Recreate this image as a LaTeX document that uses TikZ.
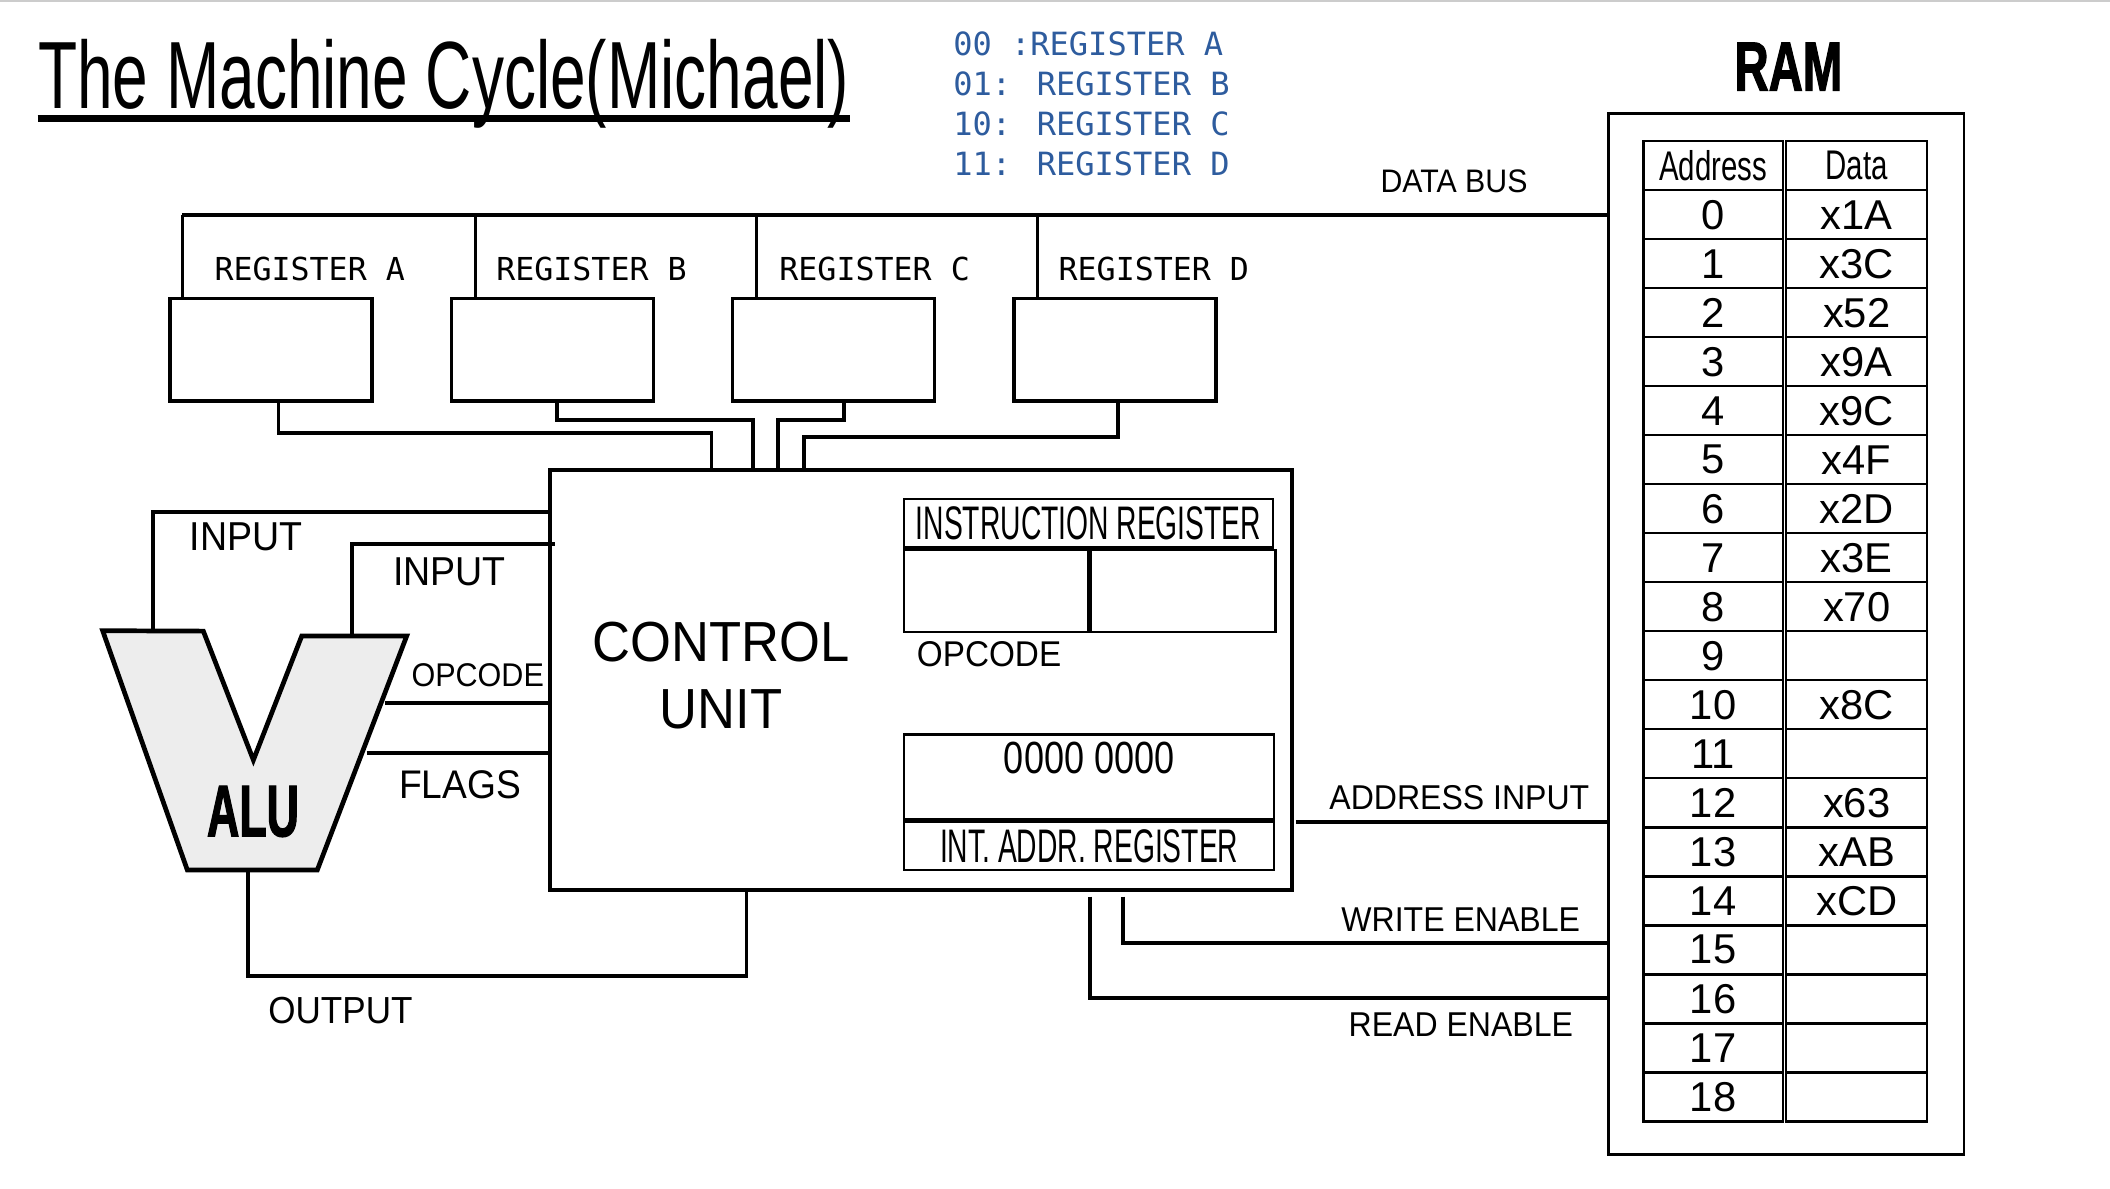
\documentclass[tikz,border=0pt]{standalone}
\usepackage{fontspec}
\setmainfont{Liberation Sans}
\newfontfamily\robotofont{Liberation Sans}[FakeStretch=0.93]
\newfontfamily\slimfont{Liberation Sans}[FakeStretch=0.67]
\newfontfamily\condfont{Liberation Sans}[FakeStretch=0.6]
\newfontfamily\condlowfont{Liberation Sans}[FakeStretch=0.71]
\newfontfamily\digitfont{Liberation Sans}[FakeStretch=0.8]
\newfontfamily\heavyfont{Liberation Sans Bold}[FakeStretch=0.68,FakeBold=1.5]
\newfontfamily\aluheavy{Liberation Sans Bold}[FakeStretch=0.61,FakeBold=1.5]
\newfontfamily\regfont{DejaVu Sans Mono}
\usetikzlibrary{positioning}
\definecolor{codeblue}{HTML}{2E5C9E}
\definecolor{alugray}{HTML}{EDEDED}

\begin{document}
\begin{tikzpicture} [
        x=0.5pt, y=-0.5pt,
        regbox/.style={draw, rectangle, line width=1.3pt, minimum width=75pt, minimum height=38pt},
        cubox/.style={draw, rectangle, line width=1.4pt, minimum width=275.75pt, minimum height=156pt},
        ramframe/.style={draw, rectangle, line width=0.9pt, minimum width=132.15pt, minimum height=386.9pt},
        cell/.style={draw, rectangle, line width=0.9pt, inner sep=0pt, anchor=north west},
        addrcell/.style={cell, minimum width=51.8pt, minimum height=18.21pt, font=\fontsize{15.5}{15.5}\selectfont},
        datacell/.style={cell, minimum width=52.35pt, minimum height=18.21pt, font=\fontsize{15.5}{15.5}\selectfont},
        tag/.style={inner sep=0pt, font=\robotofont\fontsize{#1}{#1}\selectfont},
        tag/.default=14,
        reglabel/.style={inner sep=0pt, anchor=west, font=\regfont\fontsize{11.75}{11.75}\selectfont},
        wire/.style={line width=1.4pt},
        drop/.style={line width=1.1pt},
        bus/.style={line width=1.6pt},
        alushape/.style={draw, fill=alugray, line width=1.75pt},
        node distance=104.5pt ]
    \useasboundingbox (0,0) rectangle (1568,883);
    \draw[black!20, line width=0.8pt] (0,1) -- (1568,1);

    % title and register codes
    \node[anchor=base west, inner sep=0pt, font=\slimfont\fontsize{35.5}{40}\selectfont] (title) at (28,80.5) {The Machine Cycle(Michael)};
    \draw[line width=2.5pt] ([yshift=-3.75pt]title.base west) -- ([yshift=-3.75pt]title.base east);
    \node[anchor=north west, inner sep=0pt, align=left, text=codeblue, font=\regfont\fontsize{11.9}{14.85}\selectfont] (codes) at (708,23.5)
        {00 :REGISTER A\\01: REGISTER B\\10: REGISTER C\\11: REGISTER D};

    % RAM
    \node[inner sep=0pt, font=\heavyfont\fontsize{25.85}{25.85}\selectfont] (ramtitle) at (1329,49.5) {RAM};
    \node[ramframe] (ram) at (1327.35,471.1) {};
    \node[addrcell, font=\condlowfont\fontsize{15.4}{15.4}\selectfont] (addrH) at (1220.4,104) {Address};
    \node[datacell, font=\condlowfont\fontsize{15.4}{15.4}\selectfont] (dataH) at (1326.5,104) {Data};
    \foreach \a/\d in {0/x1A,1/x3C,2/x52,3/x9A,4/x9C,5/x4F,6/x2D,7/x3E,8/x70,9/{},10/x8C,11/{},12/x63,13/xAB,14/xCD,15/{},16/{},17/{},18/{}} {
        \node[addrcell] (addr\a) at (1220.4,{140.42+36.42*\a}) {\a};
        \node[datacell] (data\a) at (1326.5,{140.42+36.42*\a}) {\d};
    }

    % registers and data bus
    \node[regbox] (regA) at (201.5,260) {};
    \node[regbox, right of=regA] (regB) {};
    \node[regbox, right of=regB] (regC) {};
    \node[regbox, right of=regC] (regD) {};
    \node[reglabel] (labA) at (159,200) {REGISTER A};
    \node[reglabel] (labB) at (368.4,200) {REGISTER B};
    \node[reglabel] (labC) at (578.8,200) {REGISTER C};
    \node[reglabel] (labD) at (786.3,200) {REGISTER D};
    \coordinate (busR) at (ram.west |- 0,160);
    \foreach \r/\s in {A/5.1pt,B/9.5pt,C/9.5pt,D/9.3pt}
        \draw[drop] ([xshift=\s]reg\r.north west) coordinate (d\r) -- (d\r |- busR);
    \draw[bus] (busR) -- (busR -| dA);
    \node[tag=12.1] (buslabel) at (1080.5,135) {DATA BUS};

    % control unit
    \node[cubox] (cu) at (684.45,505.35) {};
    \node[inner sep=0pt, align=center, font=\robotofont\fontsize{21}{25}\selectfont] (cutext) at (536,502) {CONTROL\\UNIT};
    \draw[wire] ([xshift=2.75pt]regA.south) |- (528.8,322) -- (cu.north -| 528.8,0);
    \draw[wire] ([xshift=1.75pt]regB.south) |- (559.5,312) -- (cu.north -| 559.5,0);
    \draw[wire] ([xshift=3.75pt]regC.south) |- (578,312) -- (cu.north -| 578,0);
    \draw[wire] ([xshift=1.25pt]regD.south) |- (597.2,325) -- (cu.north -| 597.2,0);

    \node[cell, minimum width=137pt, minimum height=18pt, font=\condfont\fontsize{17.5}{17.5}\selectfont] (irhead) at (671,370) {INSTRUCTION REGISTER};
    \node[cell, minimum width=68.5pt, minimum height=30.5pt] (iropc) at (irhead.south west) {};
    \node[cell, minimum width=68.5pt, minimum height=30.5pt] (iropd) at (iropc.north east) {};
    \node[tag=13.3, anchor=west] (opclabel) at (681,486.5) {OPCODE};
    \node[cell, minimum width=137.5pt, minimum height=31.5pt] (iarval) at (671,545) {};
    \node[inner sep=0pt, font=\digitfont\fontsize{16.75}{16.75}\selectfont] (iarbits) at ([yshift=-9pt]iarval.north) {0000 0000};
    \node[cell, minimum width=137.5pt, minimum height=18pt, font=\condfont\fontsize{17.5}{17.5}\selectfont] (iarhead) at (iarval.south west) {INT. ADDR. REGISTER};

    % ALU
    \draw[alushape] (76.3,468.7) -- (151.1,469) -- (188.3,564.8) -- (224.2,472.7) -- (302.2,472.7) -- (235.8,646.5) -- (139.2,646.5) -- cycle;
    \node[inner sep=0pt, font=\aluheavy\fontsize{27.25}{27.25}\selectfont] (alu) at (188,603) {ALU};
    \coordinate (inA) at (113.5,468.8);
    \coordinate (inB) at (261.3,472.7);
    \coordinate (inBend) at (412.4,404.2);
    \coordinate (opc) at (286.1,522.3);
    \coordinate (flg) at (272.5,559.5);
    \coordinate (res) at (184.5,646.5);
    \draw[wire] (inA) |- (cu.west |- 0,380.3);
    \draw[wire] (inB) |- (inBend);
    \draw[wire] (opc) -- (cu.west |- opc);
    \draw[wire] (flg) -- (cu.west |- flg);
    \draw[wire] (res) |- (554.7,725.3) -- (cu.south -| 554.7,0);
    \node[tag=15] (inAlabel) at (183,399) {INPUT};
    \node[tag=15] (inBlabel) at (334,425) {INPUT};
    \node[tag=12.2] (opclabel2) at (355,502) {OPCODE};
    \node[tag=14.85] (flglabel) at (341.8,583) {FLAGS};
    \node[tag=14] (reslabel) at (253,751) {OUTPUT};

    % control lines to RAM
    \coordinate (aiL) at (963,611);
    \coordinate (weTop) at (834.4,666.3);
    \coordinate (reTop) at (810,666.3);
    \draw[wire] (aiL) -- (ram.west |- aiL);
    \draw[wire] (weTop) |- (ram.west |- 0,701);
    \draw[wire] (reTop) |- (ram.west |- 0,741.9);
    \node[tag=12.8] (ailabel) at (1084.5,592.6) {ADDRESS INPUT};
    \node[tag=12.8] (welabel) at (1085.5,683.3) {WRITE ENABLE};
    \node[tag=12.8] (relabel) at (1085.6,761.7) {READ ENABLE};
\end{tikzpicture}
\end{document}
